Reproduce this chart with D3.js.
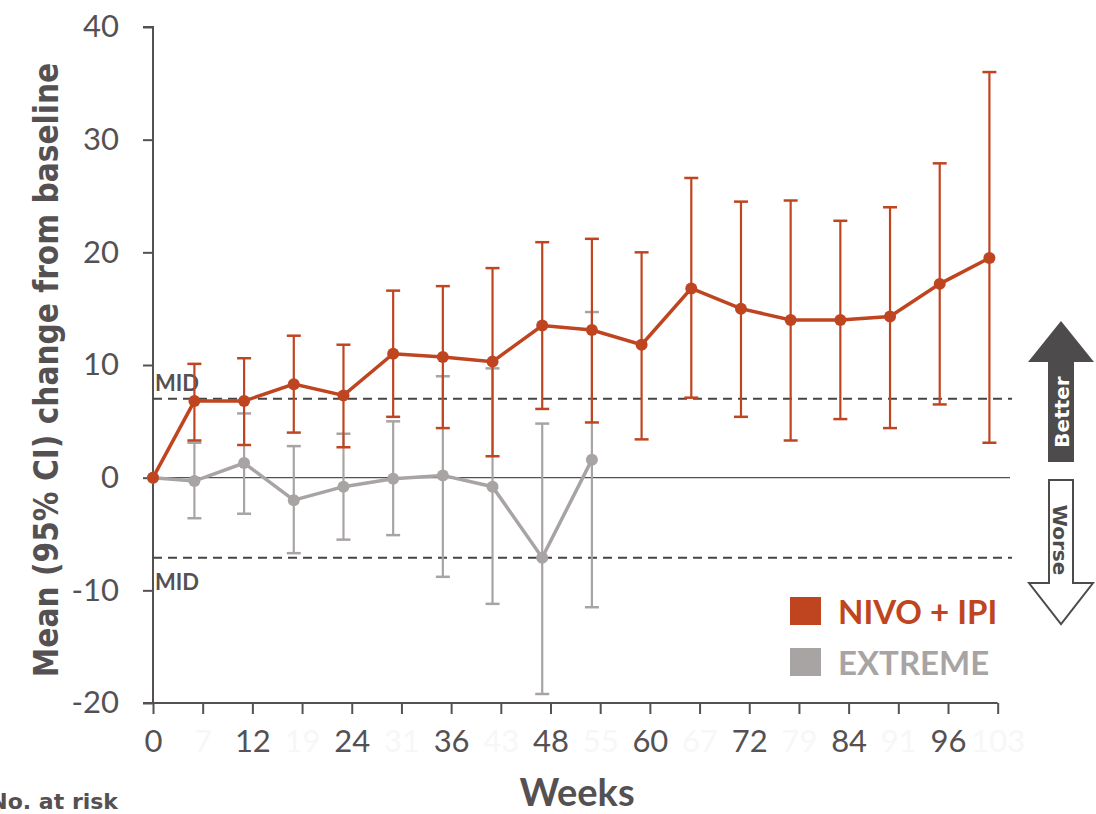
<!DOCTYPE html>
<html><head><meta charset="utf-8">
<script src="https://cdn.jsdelivr.net/npm/d3@7"></script>
<style>body{margin:0;background:#fff}svg{display:block}</style>
</head><body>
<svg id="c" width="1096" height="814"></svg>
<script>
const weeks = [0,5,11,17,23,29,35,41,47,53,59,65,71,77,83,89,95,101];
const nivoMean = [0,6.8,6.8,8.3,7.3,11.0,10.7,10.3,13.5,13.1,11.8,16.8,15.0,14.0,14.0,14.3,17.2,19.5];
const nivoLow  = [0,3.3,2.9,4.0,2.7,5.4,4.4,1.9,6.1,4.9,3.4,7.1,5.4,3.3,5.2,4.4,6.5,3.1];
const nivoHigh = [0,10.1,10.6,12.6,11.8,16.6,17.0,18.6,20.9,21.2,20.0,26.6,24.5,24.6,22.8,24.0,27.9,36.0];
const extWeeks = [0,5,11,17,23,29,35,41,47,53];
const extMean = [0,-0.3,1.3,-2.0,-0.8,-0.1,0.2,-0.8,-7.1,1.6];
const extLow  = [0,-3.6,-3.2,-6.7,-5.5,-5.1,-8.8,-11.2,-19.2,-11.5];
const extHigh = [0,3.1,5.7,2.8,3.9,5.0,9.0,9.7,4.8,14.7];
const xTicks = [0,6,12,18,24,30,36,42,48,54,60,66,72,78,84,90,96,102];
const xLabels = ["0","7","12","19","24","31","36","43","48","55","60","67","72","79","84","91","96","103"];
const yTicks = [-20,-10,0,10,20,30,40];
const yLabels = ["-20","-10","0","10","20","30","40"];
const midValues = [7,-7.1];
const seriesNames = ["NIVO + IPI","EXTREME"];

const RED = "#bf4520", GREY = "#a9a4a4", DARK = "#555152";
const svg = d3.select("#c");
const x = d3.scaleLinear().domain([0,96]).range([153,948]);
const y = d3.scaleLinear().domain([-20,40]).range([703,27]);
const FONT = "Lato, 'Open Sans', sans-serif";

// y axis
const ya = svg.append("g").attr("transform","translate(153,0)")
  .call(d3.axisLeft(y).tickValues(yTicks).tickSize(10).tickPadding(24)
    .tickFormat((d,i)=>yLabels[i]));
ya.select(".domain").attr("stroke",DARK).attr("stroke-width",2).attr("d","M-10,"+y(40)+"H0V"+y(-20)+"H-10");
ya.selectAll(".tick line").attr("stroke",DARK).attr("stroke-width",2);
ya.selectAll(".tick text").attr("fill",DARK).style("font-family",FONT).style("font-size","31px");

// x axis
const xa = svg.append("g").attr("transform","translate(0,703)")
  .call(d3.axisBottom(x).tickValues(xTicks).tickSize(11).tickPadding(16)
    .tickFormat((d,i)=>xLabels[i]));
xa.select(".domain").attr("stroke",DARK).attr("stroke-width",2).attr("d","M153,0H"+x(102));
xa.selectAll(".tick line").attr("stroke",DARK).attr("stroke-width",2);
xa.selectAll(".tick text").attr("fill",(d,i)=>i%2?"#f7f7f7":DARK)
  .style("font-family",FONT).style("font-size","31px");

// zero line
svg.append("line").attr("x1",153).attr("x2",1010).attr("y1",y(0)).attr("y2",y(0))
  .attr("stroke",DARK).attr("stroke-width",1.3);
// MID lines
midValues.forEach(v=>{
  svg.append("line").attr("x1",153).attr("x2",1012).attr("y1",y(v)).attr("y2",y(v))
    .attr("stroke","#444").attr("stroke-width",2).attr("stroke-dasharray","9,6");
});
svg.append("text").attr("x",155).attr("y",y(midValues[0])-8).text("MID")
  .attr("fill",DARK).style("font-family",FONT).style("font-weight","bold").style("font-size","22px");
svg.append("text").attr("x",155).attr("y",y(midValues[1])+32).text("MID")
  .attr("fill",DARK).style("font-family",FONT).style("font-weight","bold").style("font-size","22px");

function drawSeries(xs, mean, lo, hi, color){
  const g = svg.append("g");
  const line = d3.line().x((d,i)=>x(xs[i])).y(d=>y(d));
  xs.forEach((w,i)=>{
    if(i===0) return;
    g.append("line").attr("x1",x(w)).attr("x2",x(w)).attr("y1",y(lo[i])).attr("y2",y(hi[i]))
      .attr("stroke",color).attr("stroke-width",2.2);
    [lo[i],hi[i]].forEach(v=>g.append("line").attr("x1",x(w)-7).attr("x2",x(w)+7)
      .attr("y1",y(v)).attr("y2",y(v)).attr("stroke",color).attr("stroke-width",2.5));
  });
  g.append("path").datum(mean).attr("d",line).attr("fill","none").attr("stroke",color).attr("stroke-width",3.5);
  g.selectAll("circle").data(mean).join("circle").attr("cx",(d,i)=>x(xs[i])).attr("cy",d=>y(d))
    .attr("r",6).attr("fill",color);
}
drawSeries(extWeeks, extMean, extLow, extHigh, GREY);
drawSeries(weeks, nivoMean, nivoLow, nivoHigh, RED);

// axis titles
svg.append("text").attr("transform","translate(58,370) rotate(-90)").attr("text-anchor","middle")
  .text("Mean (95% CI) change from baseline").attr("fill",DARK)
  .style("font-family","'DejaVu Sans Condensed', 'Open Sans', sans-serif").style("font-weight","bold").style("font-size","33px");
svg.append("text").attr("x",577).attr("y",806).attr("text-anchor","middle").text("Weeks")
  .attr("fill",DARK).style("font-family",FONT).style("font-weight","bold").style("font-size","38px");
svg.append("text").attr("x",118).attr("y",809).attr("text-anchor","end").text("No. at risk")
  .attr("fill",DARK).style("font-family","'DejaVu Sans', sans-serif").style("font-weight","bold").style("font-size","22px");

// legend
const colors = [RED, GREY];
seriesNames.forEach((n,i)=>{
  svg.append("rect").attr("x",790).attr("y",597+i*51).attr("width",31).attr("height",28).attr("fill",colors[i]);
  svg.append("text").attr("x",838).attr("y",624+i*51).text(n).attr("fill",colors[i])
    .style("font-family",FONT).style("font-weight","bold").style("font-size","33px");
});

// better / worse arrows
svg.append("path").attr("d","M1061,321 L1094,362 L1074,362 L1074,462 L1048,462 L1048,362 L1028,362 Z")
  .attr("fill","#4d4b4b");
svg.append("text").attr("transform","translate(1069,412) rotate(-90)").attr("text-anchor","middle")
  .text("Better").attr("fill","#fff").style("font-family","'DejaVu Sans', sans-serif")
  .style("font-weight","bold").style("font-size","20px");
svg.append("path").attr("d","M1049,480 L1073,480 L1073,583 L1093,583 L1061,624 L1029,583 L1049,583 Z")
  .attr("fill","#fff").attr("stroke","#4d4b4b").attr("stroke-width",2);
svg.append("text").attr("transform","translate(1053,540) rotate(90)").attr("text-anchor","middle")
  .text("Worse").attr("fill","#4d4b4b").style("font-family","'DejaVu Sans', sans-serif")
  .style("font-weight","bold").style("font-size","20px");
</script>
</body></html>
